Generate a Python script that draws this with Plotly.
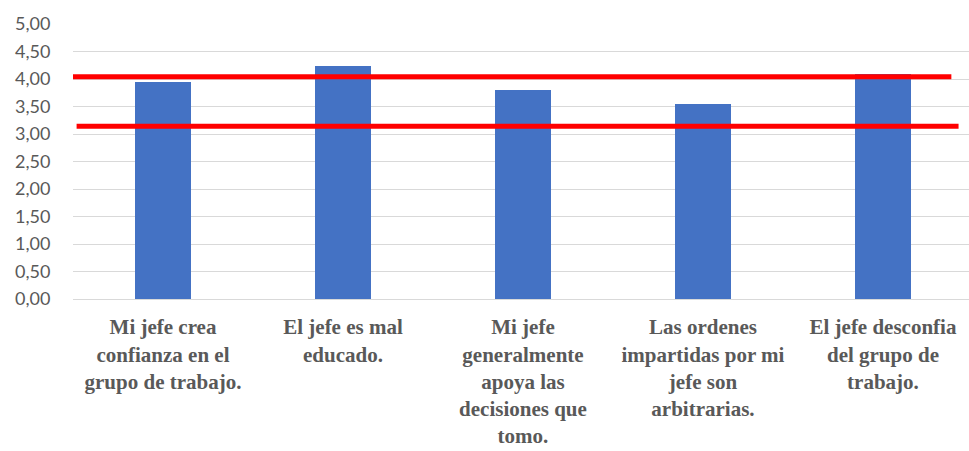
import plotly.graph_objects as go

# Survey items (category labels, wrapped as shown under each bar)
categories = [
    "Mi jefe crea<br>confianza en el<br>grupo de trabajo.",
    "El jefe es mal<br>educado.",
    "Mi jefe<br>generalmente<br>apoya las<br>decisiones que<br>tomo.",
    "Las ordenes<br>impartidas por mi<br>jefe son<br>arbitrarias.",
    "El jefe desconfia<br>del grupo de<br>trabajo.",
]
# Mean score per item
scores = [3.95, 4.24, 3.80, 3.55, 4.09]

# Red reference levels and their horizontal extent (category units)
ref_levels = [4.04, 3.14]
ref_x_start = [-0.52, -0.48]
ref_x_end = [4.38, 4.42]

y_ticks = [0, 0.5, 1, 1.5, 2, 2.5, 3, 3.5, 4, 4.5, 5]

x_pos = list(range(len(categories)))

fig = go.Figure()
fig.add_trace(go.Bar(
    x=x_pos,
    y=scores,
    width=0.31,
    marker=dict(color="#4472C4", line=dict(width=0)),
    showlegend=False,
    hoverinfo="skip",
))

for lvl, xs, xe in zip(ref_levels, ref_x_start, ref_x_end):
    fig.add_trace(go.Scatter(
        x=[xs, xe],
        y=[lvl, lvl],
        mode="lines",
        line=dict(color="#FF0000", width=5),
        showlegend=False,
        hoverinfo="skip",
        cliponaxis=False,
    ))

fig.update_layout(
    width=969,
    height=451,
    margin=dict(l=73, r=0, t=24, b=151.5),
    paper_bgcolor="white",
    plot_bgcolor="white",
    separators=",.",
    bargap=0,
)

fig.update_xaxes(
    range=[-0.5, 4.478],
    tickmode="array",
    tickvals=x_pos,
    ticktext=categories,
    tickfont=dict(family="Liberation Serif", size=21, color="#595959", weight="bold"),
    ticks="outside",
    ticklen=9,
    tickcolor="rgba(0,0,0,0)",
    showgrid=False,
    showline=False,
    zeroline=False,
    tickangle=0,
)

fig.update_yaxes(
    range=[0, 5],
    tickmode="array",
    tickvals=y_ticks,
    tickformat=".2f",
    tickfont=dict(family="Lato", size=18, color="#595959"),
    ticks="outside",
    ticklen=18,
    tickcolor="rgba(0,0,0,0)",
    showgrid=True,
    gridcolor="#D9D9D9",
    gridwidth=1,
    zeroline=True,
    zerolinecolor="#D9D9D9",
    zerolinewidth=1,
    showline=False,
)

fig.write_html("out.html")
